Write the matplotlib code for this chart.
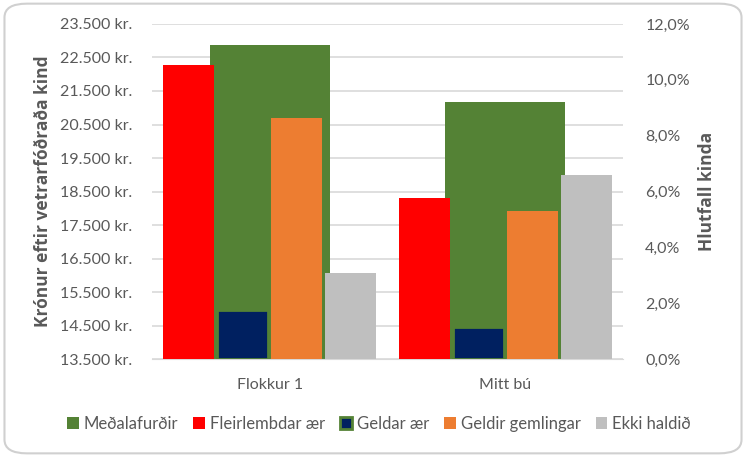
import matplotlib.pyplot as plt
from matplotlib.patches import FancyBboxPatch
from matplotlib.ticker import FuncFormatter
import numpy as np

plt.rcParams['font.family'] = ['Lato', 'DejaVu Sans']

# Data
categories = ['Flokkur 1', 'Mitt bú']
medalafurdir = [22870, 21170]          # kr., left axis
fleirlembdar = [10.53, 5.77]           # %, right axis
geldar_aer = [1.75, 1.15]
geldir_gemlingar = [8.63, 5.30]
ekki_haldid = [3.08, 6.59]

txt = '#595959'
grid = '#D9D9D9'

fig = plt.figure(figsize=(7.46, 4.57), dpi=100)
fig.patch.set_facecolor('white')
fig.patches.append(FancyBboxPatch((0.006, 0.008), 0.988, 0.984, boxstyle='round,pad=0,rounding_size=0.03',
                                  transform=fig.transFigure, fc='white', ec='#D0D0D0', lw=1.5, zorder=-1))

ax = fig.add_axes([0.2038, 0.2144, 0.6313, 0.7331])
ax2 = ax.twinx()

x = np.arange(len(categories))
ax.bar(x, medalafurdir, width=0.51, color='#548235', label='Meðalafurðir', zorder=2)
ax.set_ylim(13500, 23500)
ax.set_xlim(-0.5, 1.5)
ax.set_yticks(np.arange(13500, 23501, 1000))
ax.yaxis.set_major_formatter(FuncFormatter(lambda v, p: '{:,.0f} kr.'.format(v).replace(',', '.')))
ax.grid(axis='y', color=grid, lw=1.2, zorder=0)
ax.set_axisbelow(True)

pitch, w = 0.229, 0.217
series = [(fleirlembdar, '#FF0000', 'none', 'Fleirlembdar ær'),
          (geldar_aer, '#002060', '#548235', 'Geldar ær'),
          (geldir_gemlingar, '#ED7D31', 'none', 'Geldir gemlingar'),
          (ekki_haldid, '#BFBFBF', 'none', 'Ekki haldið')]
for i, (vals, c, ec, lab) in enumerate(series):
    ax2.bar(x + (i - 1.5) * pitch, vals, width=w, color=c, edgecolor=ec, lw=2 if ec != 'none' else 0,
            label=lab, zorder=3)
ax2.set_ylim(0, 12)
ax2.set_yticks(np.arange(0, 12.1, 2))
ax2.yaxis.set_major_formatter(FuncFormatter(lambda v, p: '{:.1f}%'.format(v).replace('.', ',')))

for a in (ax, ax2):
    for s in a.spines.values():
        s.set_visible(False)
    a.tick_params(length=0, labelsize=11.5, colors=txt)
ax.spines['bottom'].set_visible(True)
ax.spines['bottom'].set_color(grid)
ax.tick_params(axis='y', pad=14)
ax2.tick_params(axis='y', pad=16)
ax.set_xticks(x)
ax.set_xticklabels(categories)
ax.tick_params(axis='x', pad=14)

lab_font = dict(fontsize=12.5, fontweight='bold', color=txt, family=['Open Sans', 'DejaVu Sans'])
ax.set_ylabel('Krónur eftir vetrarfóðraða kind', labelpad=6, **lab_font)
ax2.set_ylabel('Hlutfall kinda', labelpad=6, **lab_font)

h1, l1 = ax.get_legend_handles_labels()
h2, l2 = ax2.get_legend_handles_labels()
fig.legend(h1 + h2, l1 + l2, loc='center', bbox_to_anchor=(0.508, 0.072), ncol=5, frameon=False,
           fontsize=12, labelcolor=txt, handlelength=0.7, handleheight=0.7,
           handletextpad=0.3, columnspacing=0.9)

fig.savefig('out.png', dpi=100)
